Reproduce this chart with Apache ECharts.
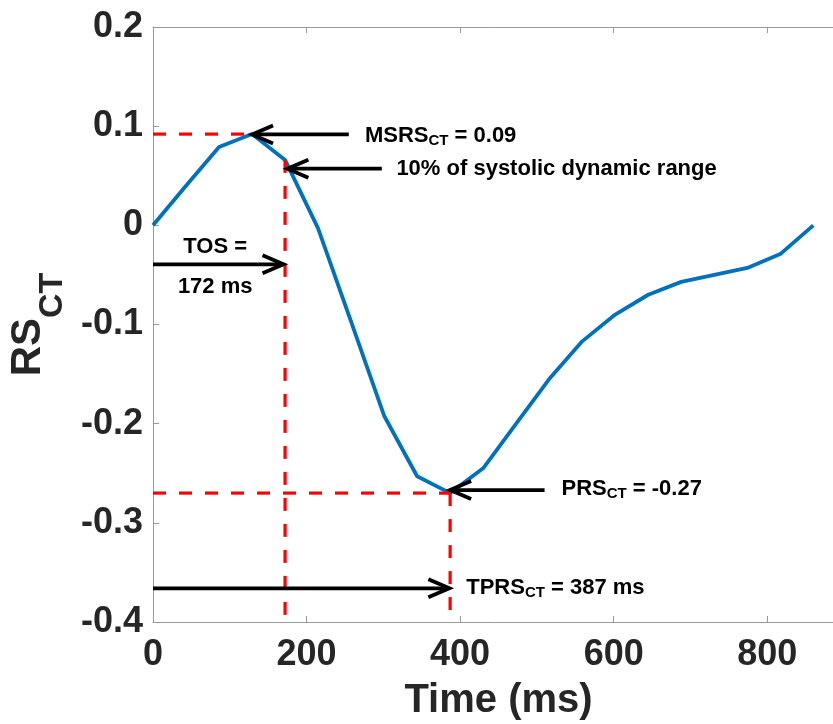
<!DOCTYPE html>
<html>
<head>
<meta charset="utf-8">
<script src="https://cdn.jsdelivr.net/npm/echarts@6/dist/echarts.min.js"></script>
<style>
html,body{margin:0;padding:0;background:#ffffff;}
#chart{width:833px;height:724px;}
</style>
</head>
<body>
<div id="chart"></div>
<script>
// ---- data ----
const timeMs = [0, 43, 86, 129, 172, 215, 258, 301, 344, 387, 430, 473, 516, 559, 602, 645, 688, 731, 774, 817, 860];
const rsCT   = [0, 0.040, 0.079, 0.092, 0.066, -0.003, -0.097, -0.192, -0.253, -0.270, -0.245, -0.200, -0.155, -0.117, -0.090, -0.070, -0.057, -0.050, -0.043, -0.029, 0.000];

const msrsValue = 0.092;   // MSRS_CT
const msrsTime = 129;
const tosTime = 172;       // TOS
const tosValue = 0.066;
const prsValue = -0.270;   // PRS_CT
const tprsTime = 387;      // TPRS_CT
const yBottom = -0.4;

const xTickValues = [0, 200, 400, 600, 800];
const yTickValues = [-0.4, -0.3, -0.2, -0.1, 0, 0.1, 0.2];

// red dashed guide lines: [x1, y1, x2, y2]
const guideLines = [
  [0, msrsValue, msrsTime, msrsValue],
  [tosTime, tosValue, tosTime, yBottom],
  [0, prsValue, tprsTime, prsValue],
  [tprsTime, prsValue, tprsTime, yBottom]
];

// arrows: [xStart, yStart, xTip, yTip]
const arrows = [
  [255, 0.0917, 129, 0.0917],
  [298, 0.0571, 175, 0.0571],
  [0, -0.0393, 170, -0.0393],
  [510, -0.267, 387, -0.267],
  [0, -0.366, 386, -0.366]
];

// annotation labels: [x, y] anchors, texts, alignment
const labelPos = [[276, 0.0905], [317, 0.0565], [81, -0.0215], [81, -0.0625], [532, -0.2655], [408, -0.3655]];
const labelText = [
  '{m|MSRS}{s|CT}{m| = 0.09}',
  '{m|10% of systolic dynamic range}',
  '{m|TOS =}',
  '{m|172 ms}',
  '{m|PRS}{s|CT}{m| = -0.27}',
  '{m|TPRS}{s|CT}{m| = 387 ms}'
];
const labelAlign = ['left', 'left', 'center', 'center', 'left', 'left'];

// ---- chart ----
const FONT = '"Liberation Sans", Arial, Helvetica, sans-serif';
const AXIS_COLOR = '#9a9a9a';
const chart = echarts.init(document.getElementById('chart'), null, {renderer: 'canvas'});

const series = [];
series.push({
  type: 'line',
  data: timeMs.map((t, i) => [t, rsCT[i]]),
  showSymbol: false,
  symbol: 'none',
  lineStyle: {color: '#0072BD', width: 3.8},
  itemStyle: {color: '#0072BD'},
  z: 3,
  silent: true
});
guideLines.forEach(g => {
  series.push({
    type: 'line',
    data: [[g[0], g[1]], [g[2], g[3]]],
    symbol: 'none',
    lineStyle: {color: '#ff0000', width: 3.2, type: [13, 13]},
    z: 4,
    silent: true
  });
});
series.push({
  type: 'custom',
  data: arrows,
  encode: {x: [0, 2], y: [1, 3]},
  clip: false,
  z: 5,
  silent: true,
  renderItem: function (params, api) {
    const p1 = api.coord([api.value(0), api.value(1)]);
    const p2 = api.coord([api.value(2), api.value(3)]);
    const dx = p2[0] - p1[0], dy = p2[1] - p1[1];
    const len = Math.sqrt(dx * dx + dy * dy);
    const ux = dx / len, uy = dy / len;
    const hl = 21, hw = 9;
    const a = [p2[0] - ux * hl - uy * hw, p2[1] - uy * hl + ux * hw];
    const b = [p2[0] - ux * hl + uy * hw, p2[1] - uy * hl - ux * hw];
    return {
      type: 'group',
      children: [
        {type: 'line', shape: {x1: p1[0], y1: p1[1], x2: p2[0] - ux * 2, y2: p2[1] - uy * 2},
         style: {stroke: '#000', lineWidth: 3.8}},
        {type: 'polyline', shape: {points: [a, p2, b]},
         style: {stroke: '#000', lineWidth: 3.8, fill: null, lineJoin: 'miter'}}
      ]
    };
  }
});
series.push({
  type: 'custom',
  data: labelPos.map((p, i) => [p[0], p[1], i]),
  encode: {x: 0, y: 1},
  clip: false,
  z: 6,
  silent: true,
  renderItem: function (params, api) {
    const idx = api.value(2);
    const p = api.coord([api.value(0), api.value(1)]);
    return {
      type: 'text',
      x: p[0], y: p[1],
      style: {
        text: labelText[idx],
        align: labelAlign[idx],
        verticalAlign: 'middle',
        rich: {
          m: {fontFamily: FONT, fontWeight: 'bold', fontSize: 22, fill: '#000', lineHeight: 22},
          s: {fontFamily: FONT, fontWeight: 'bold', fontSize: 15, fill: '#000', lineHeight: 15, padding: [10, 0, 0, 0]}
        }
      }
    };
  }
});

const option = {
  animation: false,
  backgroundColor: '#ffffff',
  grid: {left: 153, top: 27, width: 691, height: 595, containLabel: false, outerBoundsMode: 'none'},
  xAxis: [{
    type: 'value', min: 0, max: 900, interval: 200,
    position: 'bottom',
    name: 'Time (ms)', nameLocation: 'middle', nameGap: 59,
    nameTextStyle: {fontFamily: FONT, fontWeight: 'bold', fontSize: 40, color: '#262626'},
    axisLine: {show: true, onZero: false, lineStyle: {color: AXIS_COLOR, width: 1}},
    axisTick: {show: true, inside: true, length: 6, lineStyle: {color: AXIS_COLOR}},
    splitLine: {show: false},
    axisLabel: {
      fontFamily: FONT, fontWeight: 'bold', fontSize: 36, color: '#262626', margin: 15,
      showMaxLabel: false,
      formatter: v => (xTickValues.indexOf(v) >= 0 ? String(v) : '')
    }
  }, {
    type: 'value', min: 0, max: 900, interval: 200,
    position: 'top',
    axisLine: {show: true, onZero: false, lineStyle: {color: AXIS_COLOR, width: 1}},
    axisTick: {show: true, inside: true, length: 6, lineStyle: {color: AXIS_COLOR}},
    axisLabel: {show: false},
    splitLine: {show: false}
  }],
  yAxis: [{
    type: 'value', min: -0.4, max: 0.2, interval: 0.1,
    name: '{a|RS}{b|CT}', nameLocation: 'middle', nameGap: 79, nameRotate: 90,
    nameTextStyle: {
      color: '#262626',
      rich: {
        a: {fontFamily: FONT, fontWeight: 'bold', fontSize: 42, lineHeight: 42, color: '#262626'},
        b: {fontFamily: FONT, fontWeight: 'bold', fontSize: 34, lineHeight: 34, color: '#262626', padding: [49, 0, 0, 0]}
      }
    },
    axisLine: {show: true, onZero: false, lineStyle: {color: AXIS_COLOR, width: 1}},
    axisTick: {show: true, inside: true, length: 6, lineStyle: {color: AXIS_COLOR}},
    splitLine: {show: false},
    axisLabel: {
      fontFamily: FONT, fontWeight: 'bold', fontSize: 36, color: '#262626', margin: 10,
      formatter: v => {
        const r = Math.round(v * 10) / 10;
        return yTickValues.indexOf(r) >= 0 ? String(r) : '';
      }
    }
  }],
  series: series
};
chart.setOption(option);
</script>
</body>
</html>
